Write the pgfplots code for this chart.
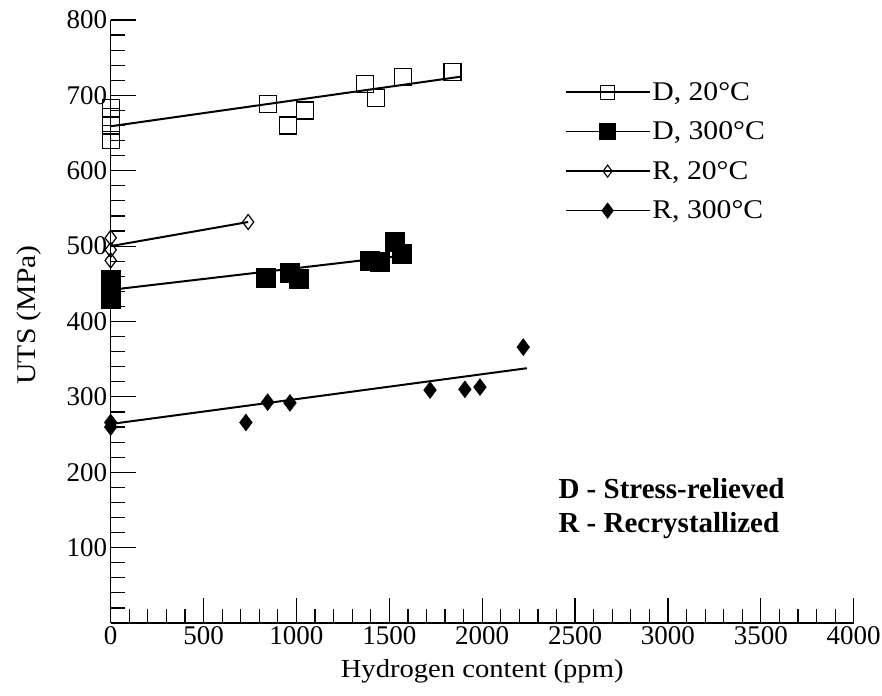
\documentclass[border=0pt]{standalone}
\usepackage{fontspec}
\setmainfont{Liberation Serif}
\newfontfamily\widefont{Liberation Serif}[FakeStretch=1.1]
\usepackage{pgfplots}
\pgfplotsset{compat=1.18}
\begin{document}
\begin{tikzpicture}
\path[use as bounding box] (-110.7pt,-72pt) rectangle (771.3pt,623pt);
\begin{axis}[
  at={(0pt,0pt)}, anchor=south west,
  scale only axis, width=743pt, height=603pt,
  xmin=0, xmax=4000, ymin=0, ymax=800,
  axis x line=bottom, axis y line=left,
  axis line style={-, line width=1.5pt},
  tick align=inside,
  xtick={0,500,...,4000}, minor x tick num=4,
  ytick={0,100,...,800}, minor y tick num=4,
  yticklabels={,100,200,300,400,500,600,700,800},
  major tick length=25pt, minor tick length=14pt,
  every tick/.style={black, line width=1.2pt},
  /pgf/number format/assume math mode=true,
  /pgf/number format/1000 sep={},
  ticklabel style={font=\fontsize{27}{30}\selectfont},
  xlabel={Hydrogen content (ppm)},
  ylabel={UTS (MPa)},
  xlabel style={font=\widefont\fontsize{26}{30}\selectfont, at={(axis description cs:0.5,-0.08)}, anchor=center},
  ylabel style={font=\widefont\fontsize{27}{30}\selectfont, at={(axis description cs:-0.11,0.511)}, anchor=center},
  legend cell align=left,
  legend style={at={(rel axis cs:0.611,0.9)}, anchor=north west, draw=none, fill=none,
    inner sep=0pt, font=\widefont\fontsize{27}{30}\selectfont, row sep=16pt},
  legend image code/.code={\draw[mark repeat=2,mark phase=2] plot coordinates {(0pt,0pt) (42pt,0pt) (84pt,0pt)};},
]
% legend entries
\addlegendimage{black, line width=1.5pt, mark=square, mark size=7pt, mark options={solid, fill=white, line width=1.1pt}}
\addlegendentry{D, 20°C}
\addlegendimage{black, line width=1.5pt, mark=square*, mark size=8pt, mark options={solid, fill=black}}
\addlegendentry{D, 300°C}
\addlegendimage{black, line width=1.5pt, mark=diamond, mark size=6pt, mark options={solid, fill=white, line width=1.1pt}}
\addlegendentry{R, 20°C}
\addlegendimage{black, line width=1.5pt, mark=diamond*, mark size=7pt, mark options={solid, fill=black}}
\addlegendentry{R, 300°C}
% regression lines
\addplot[forget plot, black, line width=2pt] coordinates {(0,659) (1890,725)};
\addplot[forget plot, black, line width=2pt] coordinates {(0,442) (1560,487)};
\addplot[forget plot, black, line width=2pt] coordinates {(0,500) (740,532)};
\addplot[forget plot, black, line width=2pt] coordinates {(0,264) (2240,338)};
% D, 20C
\addplot[forget plot, only marks, mark=square, mark size=8.5pt, mark options={fill=white, line width=1.2pt}] coordinates {
(0,683) (0,671) (0,660) (0,641) (847,689) (956,660) (1046,680) (1369,715) (1430,696) (1575,724) (1840,731)};
% D, 300C
\addplot[forget plot, only marks, mark=square*, mark size=9.5pt, mark options={fill=black}] coordinates {
(0,455) (0,442) (0,430) (836,458) (965,465) (1010,457) (1396,481) (1449,479) (1530,506) (1566,490)};
% R, 20C
\addplot[forget plot, only marks, mark=diamond, mark size=7.5pt, mark options={fill=white, line width=1.2pt}] coordinates {
(0,511) (0,495) (0,481) (740,532)};
% R, 300C
\addplot[forget plot, only marks, mark=diamond*, mark size=8.5pt, mark options={fill=black}] coordinates {
(0,266) (0,260) (728,266) (845,293) (965,292) (1719,309) (1907,310) (1988,313) (2221,366)};
\node[anchor=west, align=left, font=\fontsize{29}{34}\selectfont\bfseries] at (rel axis cs:0.598,0.189) {D - Stress-relieved\\R - Recrystallized};
\end{axis}
\end{tikzpicture}
\end{document}
